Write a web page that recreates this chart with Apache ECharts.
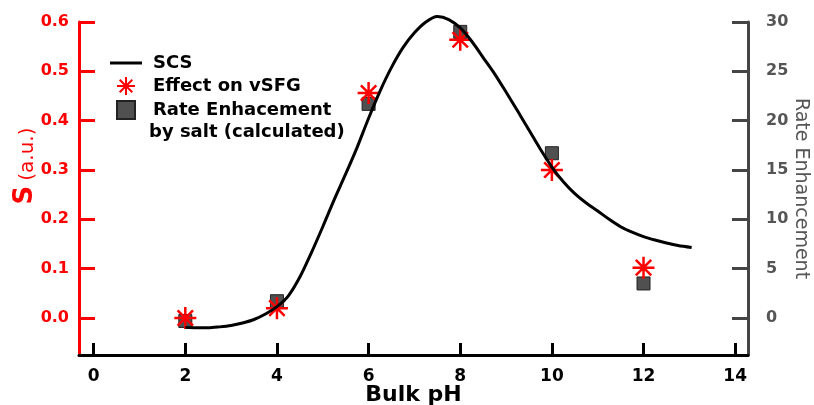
<!DOCTYPE html>
<html>
<head>
<meta charset="utf-8">
<script src="https://cdn.jsdelivr.net/npm/echarts@6/dist/echarts.min.js"></script>
<style>
  html, body { margin: 0; padding: 0; background: #fff; }
  #chart { width: 814px; height: 405px; }
</style>
</head>
<body>
<div id="chart"></div>
<script>
// measured pH values
const phPoints = [2, 4, 6, 8, 10, 12];
// effect on vSFG, S (a.u.) -> left axis
const sfgEffect = [0.0, 0.02, 0.456, 0.564, 0.30, 0.102];
// rate enhancement by salt (calculated) -> right axis
const rateEnh = [-0.3, 1.7, 21.7, 29.0, 16.7, 3.5];
// SCS curve
const scsPh = [2.0, 2.25, 2.5, 2.75, 3.0, 3.25, 3.5, 3.75, 4.0, 4.25, 4.5, 4.75, 5.0, 5.25, 5.5, 5.75, 6.0, 6.25, 6.5, 6.75, 7.0, 7.25, 7.5, 7.75, 8.0, 8.25, 8.5, 8.75, 9.0, 9.25, 9.5, 9.75, 10.0, 10.25, 10.5, 10.75, 11.0, 11.25, 11.5, 11.75, 12.0, 12.25, 12.5, 12.75, 13.05];
const scsS = [-0.019, -0.020, -0.020, -0.018, -0.015, -0.010, -0.003, 0.008, 0.023, 0.045, 0.083, 0.132, 0.185, 0.24, 0.292, 0.346, 0.405, 0.46, 0.508, 0.548, 0.578, 0.600, 0.611, 0.605, 0.588, 0.561, 0.528, 0.495, 0.458, 0.42, 0.381, 0.342, 0.306, 0.276, 0.252, 0.233, 0.217, 0.200, 0.185, 0.174, 0.165, 0.158, 0.152, 0.147, 0.143];
// tick labels
const xTicks = [0, 2, 4, 6, 8, 10, 12, 14];
const leftTicks = [0, 0.1, 0.2, 0.3, 0.4, 0.5, 0.6];
const rightTicks = [0, 5, 10, 15, 20, 25, 30];

const FONT = 'DejaVu Sans';
const RED = '#ff0000';
const GRAY = '#454545';
const starPath = 'path://M10,0L10,20M0,10L20,10M3,3L17,17M3,17L17,3';

const chart = echarts.init(document.getElementById('chart'));

const option = {
  animation: false,
  grid: { left: 79, right: 66, top: 22, bottom: 50, outerBoundsMode: 'none' },
  legend: {
    orient: 'vertical',
    left: 105,
    top: 49,
    itemWidth: 32,
    itemHeight: 18,
    itemGap: 4,
    textStyle: { fontFamily: FONT, fontWeight: 'bold', fontSize: 18, color: '#000', padding: [0, 0, 0, 6] },
    data: [
      { name: 'SCS', icon: 'path://M0,0L32,0L32,3L0,3Z', itemStyle: { color: '#000' } },
      { name: 'Effect on vSFG' },
      { name: 'Rate Enhacement', icon: 'path://M0,0L10,0L10,10L0,10Z' }
    ]
  },
  graphic: [
    {
      type: 'text',
      x: 25,
      y: 166,
      rotation: Math.PI / 2,
      style: {
        text: '{s|S}{u|(a.u.)}',
        align: 'center',
        verticalAlign: 'middle',
        fill: RED,
        rich: {
          s: { fontFamily: FONT, fontWeight: 'bold', fontSize: 26, fill: RED, verticalAlign: 'bottom', padding: [0, 5, 0, 0] },
          u: { fontFamily: FONT, fontSize: 20, fill: RED, verticalAlign: 'bottom' }
        }
      }
    },
    {
      type: 'text',
      x: 149,
      y: 132,
      style: {
        text: 'by salt (calculated)',
        font: 'bold 18px "DejaVu Sans"',
        fill: '#000',
        verticalAlign: 'middle'
      }
    }
  ],
  xAxis: {
    type: 'value',
    min: -0.32,
    max: 14.28,
    name: 'Bulk pH',
    nameLocation: 'middle',
    nameGap: 29,
    nameMoveOverlap: false,
    nameTextStyle: { fontFamily: FONT, fontWeight: 'bold', fontSize: 22, color: '#000' },
    axisLine: { onZero: false, lineStyle: { color: '#000', width: 3 } },
    axisTick: { inside: true, length: 12, lineStyle: { color: '#000', width: 3 }, customValues: xTicks },
    axisLabel: { customValues: xTicks, margin: 13, fontFamily: FONT, fontWeight: 'bold', fontSize: 17, color: '#000' },
    splitLine: { show: false }
  },
  yAxis: [
    {
      type: 'value',
      position: 'left',
      min: -0.075,
      max: 0.6,
      axisLine: { show: true, onZero: false, lineStyle: { color: RED, width: 3 } },
      axisTick: { show: true, inside: true, length: 16, lineStyle: { color: RED, width: 3 }, customValues: leftTicks },
      axisLabel: {
        customValues: leftTicks,
        formatter: v => v.toFixed(1),
        margin: 10,
        fontFamily: FONT, fontWeight: 'bold', fontSize: 16, color: RED
      },
      splitLine: { show: false }
    },
    {
      type: 'value',
      position: 'right',
      min: -3.75,
      max: 30,
      name: 'Rate Enhancement',
      nameLocation: 'middle',
      nameRotate: -90,
      nameGap: 43,
      nameMoveOverlap: false,
      nameTextStyle: { fontFamily: FONT, fontSize: 19, color: '#555' },
      axisLine: { show: true, onZero: false, lineStyle: { color: GRAY, width: 3 } },
      axisTick: { show: true, inside: true, length: 16, lineStyle: { color: GRAY, width: 3 }, customValues: rightTicks },
      axisLabel: {
        customValues: rightTicks,
        margin: 18,
        fontFamily: FONT, fontWeight: 'bold', fontSize: 16, color: '#555'
      },
      splitLine: { show: false }
    }
  ],
  series: [
    {
      name: 'SCS',
      type: 'line',
      yAxisIndex: 0,
      data: scsPh.map((p, i) => [p, scsS[i]]),
      smooth: 0.3,
      symbol: 'none',
      clip: false,
      itemStyle: { color: '#000' },
      lineStyle: { color: '#000', width: 3 }
    },
    {
      name: 'Rate Enhacement',
      type: 'scatter',
      yAxisIndex: 1,
      data: phPoints.map((p, i) => [p, rateEnh[i]]),
      symbol: 'rect',
      symbolSize: 13,
      symbolKeepAspect: true,
      itemStyle: { color: '#505050', borderColor: '#222', borderWidth: 1, opacity: 1 }
    },
    {
      name: 'Effect on vSFG',
      type: 'scatter',
      yAxisIndex: 0,
      data: phPoints.map((p, i) => [p, sfgEffect[i]]),
      symbol: starPath,
      symbolSize: 22,
      symbolKeepAspect: true,
      itemStyle: { color: 'rgba(0,0,0,0)', borderColor: RED, borderWidth: 2.5, opacity: 1 }
    }
  ]
};

chart.setOption(option);
</script>
</body>
</html>
